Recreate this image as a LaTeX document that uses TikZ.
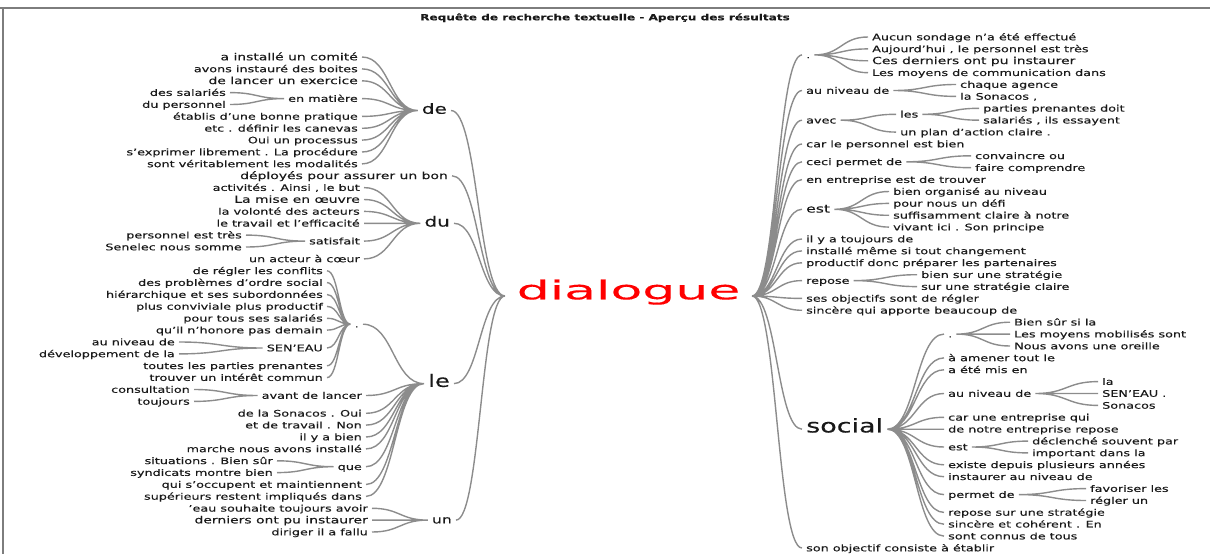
\documentclass[tikz,border=0pt]{standalone}
\usepackage{fontspec}
\setmainfont[FakeStretch=1.42,FakeBold=0.3]{DejaVu Sans}
\newfontfamily\rootfont[FakeStretch=2.0,FakeBold=0.3]{DejaVu Sans}
\usetikzlibrary{calc}
\definecolor{wire}{RGB}{140,140,140}
\definecolor{ink}{RGB}{25,25,25}
\definecolor{rim}{RGB}{125,125,125}

\begin{document}
\begin{tikzpicture}[
    x=1pt, y=-1pt,
    every node/.style={inner xsep=4pt, inner ysep=1pt, text height=1.6ex, text depth=.4ex, text=ink, font=\fontsize{9}{10}\selectfont},
    pre/.style={anchor=east},
    post/.style={anchor=west},
    big/.style={font=\fontsize{9.8}{11}\selectfont},
    hub/.style={font=\fontsize{14}{16}\selectfont},
    root/.style={font=\rootfont\fontsize{26}{30}\selectfont, text=red, inner xsep=11.5pt},
    link/.style={draw=wire, line width=1.4pt,
        to path={let \p1=(\tikztostart), \p2=(\tikztotarget), \n1={0.5*(\x2-\x1)} in
            .. controls +(\n1,0) and +(-\n1,0) .. (\tikztotarget)}}
]
\useasboundingbox (0,0) rectangle (1210,554);
\draw[rim, line width=1.5pt] (0,8) -- (1210,8) (3,8) -- (3,554);
\node[font=\bfseries\fontsize{8.5}{10}\selectfont] (title) at (605,17) {Requête de recherche textuelle - Aperçu des résultats};

\node[root] (dialogue) at (628.5,296) {dialogue};

% words before
\node[pre,hub] (de) at (451,110.5) {de};
\node[pre,big] (de-comite) at (362,57) {a installé un comité};
\node[pre] (de-boites) at (362,68.9) {avons instauré des boites};
\node[pre,big] (de-exercice) at (362,80.8) {de lancer un exercice};
\node[pre] (matiere) at (362,98.6) {en matière};
\node[pre] (matiere-salaries) at (230,92.6) {des salariés};
\node[pre] (matiere-personnel) at (230,104.5) {du personnel};
\node[pre] (de-pratique) at (362,116.4) {établis d'une bonne pratique};
\node[pre] (de-canevas) at (362,128.3) {etc . définir les canevas};
\node[pre] (de-processus) at (362,140.1) {Oui un processus};
\node[pre] (de-procedure) at (362,152.0) {s'exprimer librement . La procédure};
\node[pre] (de-modalites) at (362,163.9) {sont véritablement les modalités};

\node[pre,big] (deployes) at (452,175.8) {déployés pour assurer un bon};

\node[pre,hub] (du) at (454,223.3) {du};
\node[pre] (du-but) at (364,187.6) {activités . Ainsi , le but};
\node[pre,big] (du-oeuvre) at (364,199.5) {La mise en œuvre};
\node[pre] (du-volonte) at (364,211.4) {la volonté des acteurs};
\node[pre] (du-travail) at (364,223.3) {le travail et l'efficacité};
\node[pre] (satisfait) at (364,241.1) {satisfait};
\node[pre] (satisfait-tres) at (246,235.1) {personnel est très};
\node[pre] (satisfait-senelec) at (246,247.0) {Senelec nous somme};
\node[pre] (du-coeur) at (364,258.9) {un acteur à cœur};

\node[pre,font=\fontsize{17}{20}\selectfont] (le) at (454,383.6) {le};
\node[pre] (point) at (363,324.2) {.};
\node[pre] (point-conflits) at (327,270.8) {de régler les conflits};
\node[pre] (point-social) at (327,282.6) {des problèmes d'ordre social};
\node[pre] (point-hierarchie) at (327,294.5) {hiérarchique et ses subordonnées};
\node[pre] (point-conviviale) at (327,306.4) {plus conviviale plus productif};
\node[pre] (point-salaries) at (327,318.3) {pour tous ses salariés};
\node[pre] (point-demain) at (327,330.1) {qu'il n'honore pas demain};
\node[pre] (seneau) at (327,348.0) {SEN'EAU};
\node[pre] (seneau-niveau) at (179,342.0) {au niveau de};
\node[pre] (seneau-developpement) at (179,353.9) {développement de la};
\node[pre] (point-prenantes) at (327,365.8) {toutes les parties prenantes};
\node[pre] (point-commun) at (327,377.6) {trouver un intérêt commun};
\node[pre] (avant) at (366,395.5) {avant de lancer};
\node[pre] (avant-consultation) at (194,389.5) {consultation};
\node[pre] (avant-toujours) at (194,401.4) {toujours};
\node[pre] (le-sonacos) at (366,413.3) {de la Sonacos . Oui};
\node[pre] (le-non) at (366,425.1) {et de travail . Non};
\node[pre] (le-bien) at (366,437.0) {il y a bien};
\node[pre] (le-marche) at (366,448.9) {marche nous avons installé};
\node[pre] (que) at (366,466.7) {que};
\node[pre] (que-situations) at (277,460.8) {situations . Bien sûr};
\node[pre] (que-syndicats) at (277,472.6) {syndicats montre bien};
\node[pre] (le-maintien) at (366,484.5) {qui s'occupent et maintiennent};
\node[pre] (le-superieurs) at (366,496.4) {supérieurs restent impliqués dans};

\node[pre,font=\fontsize{11}{13}\selectfont] (un) at (456,520.1) {un};
\node[pre] (un-eau) at (372,508.3) {'eau souhaite toujours avoir};
\node[pre,big] (un-derniers) at (372,520.1) {derniers ont pu instaurer};
\node[pre] (un-diriger) at (372,532.0) {diriger il a fallu};

\draw[link] (de.east) to (dialogue.west) (deployes.east) to (dialogue.west)
    (du.east) to (dialogue.west) (le.east) to (dialogue.west) (un.east) to (dialogue.west);
\draw[link] (de-comite.east) to (de.west) (de-boites.east) to (de.west)
    (de-exercice.east) to (de.west) (matiere.east) to (de.west)
    (de-pratique.east) to (de.west) (de-canevas.east) to (de.west)
    (de-processus.east) to (de.west) (de-procedure.east) to (de.west)
    (de-modalites.east) to (de.west);
\draw[link] (matiere-salaries.east) to (matiere.west) (matiere-personnel.east) to (matiere.west);
\draw[link] (du-but.east) to (du.west) (du-oeuvre.east) to (du.west)
    (du-volonte.east) to (du.west) (du-travail.east) to (du.west)
    (satisfait.east) to (du.west) (du-coeur.east) to (du.west);
\draw[link] (satisfait-tres.east) to (satisfait.west) (satisfait-senelec.east) to (satisfait.west);
\draw[link] (point.east) to (le.west) (avant.east) to (le.west)
    (le-sonacos.east) to (le.west) (le-non.east) to (le.west)
    (le-bien.east) to (le.west) (le-marche.east) to (le.west)
    (que.east) to (le.west) (le-maintien.east) to (le.west)
    (le-superieurs.east) to (le.west);
\draw[link] (point-conflits.east) to (point.west) (point-social.east) to (point.west)
    (point-hierarchie.east) to (point.west) (point-conviviale.east) to (point.west)
    (point-salaries.east) to (point.west) (point-demain.east) to (point.west)
    (seneau.east) to (point.west) (point-prenantes.east) to (point.west)
    (point-commun.east) to (point.west);
\draw[link] (seneau-niveau.east) to (seneau.west) (seneau-developpement.east) to (seneau.west);
\draw[link] (avant-consultation.east) to (avant.west) (avant-toujours.east) to (avant.west);
\draw[link] (que-situations.east) to (que.west) (que-syndicats.east) to (que.west);
\draw[link] (un-eau.east) to (un.west) (un-derniers.east) to (un.west) (un-diriger.east) to (un.west);

% words after
\node[post] (fin) at (802,54.9) {.};
\node[post] (fin-sondage) at (868,37.0) {Aucun sondage n'a été effectué};
\node[post] (fin-aujourdhui) at (868,48.9) {Aujourd'hui , le personnel est très};
\node[post,big] (fin-derniers) at (868,60.8) {Ces derniers ont pu instaurer};
\node[post] (fin-moyens) at (868,72.7) {Les moyens de communication dans};
\node[post] (niveau) at (802,90.5) {au niveau de};
\node[post] (niveau-agence) at (956,84.5) {chaque agence};
\node[post] (niveau-sonacos) at (956,96.4) {la Sonacos ,};
\node[post] (avec) at (802,120.2) {avec};
\node[post] (les) at (896,114.3) {les};
\node[post] (les-prenantes) at (979,108.3) {parties prenantes doit};
\node[post] (les-salaries) at (979,120.2) {salariés , ils essayent};
\node[post] (avec-plan) at (896,132.1) {un plan d'action claire .};
\node[post] (car) at (802,144.0) {car le personnel est bien};
\node[post] (ceci) at (802,161.8) {ceci permet de};
\node[post] (ceci-convaincre) at (971,155.8) {convaincre ou};
\node[post] (ceci-comprendre) at (971,167.7) {faire comprendre};
\node[post] (trouver) at (802,179.6) {en entreprise est de trouver};
\node[post,font=\fontsize{11}{13}\selectfont] (est) at (802,209.3) {est};
\node[post] (est-organise) at (889,191.5) {bien organisé au niveau};
\node[post] (est-defi) at (889,203.4) {pour nous un défi};
\node[post] (est-claire) at (889,215.3) {suffisamment claire à notre};
\node[post] (est-principe) at (889,227.1) {vivant ici . Son principe};
\node[post] (toujours) at (802,239.0) {il y a toujours de};
\node[post] (changement) at (802,250.9) {installé même si tout changement};
\node[post] (productif) at (802,262.8) {productif donc préparer les partenaires};
\node[post] (repose) at (802,280.6) {repose};
\node[post] (repose-bien) at (917,274.7) {bien sur une stratégie};
\node[post] (repose-claire) at (917,286.6) {sur une stratégie claire};
\node[post] (objectifs) at (802,298.4) {ses objectifs sont de régler};
\node[post] (sincere) at (802,310.3) {sincère qui apporte beaucoup de};

\node[post,font=\fontsize{19}{22}\selectfont] (social) at (802,429.2) {social};
\node[post] (sfin) at (944,334.1) {.};
\node[post] (sfin-si) at (1010,322.2) {Bien sûr si la};
\node[post] (sfin-moyens) at (1010,334.1) {Les moyens mobilisés sont};
\node[post] (sfin-oreille) at (1010,346.0) {Nous avons une oreille};
\node[post] (amener) at (944,357.9) {à amener tout le};
\node[post] (mis) at (944,369.8) {a été mis en};
\node[post] (sniveau) at (944,393.5) {au niveau de};
\node[post] (sniveau-la) at (1098,381.6) {la};
\node[post] (sniveau-seneau) at (1098,393.5) {SEN'EAU .};
\node[post] (sniveau-sonacos) at (1098,405.4) {Sonacos};
\node[post] (entreprise) at (944,417.3) {car une entreprise qui};
\node[post] (notre) at (944,429.2) {de notre entreprise repose};
\node[post] (sest) at (944,447.0) {est};
\node[post] (sest-declenche) at (1028,441.1) {déclenché souvent par};
\node[post] (sest-important) at (1028,452.9) {important dans la};
\node[post] (existe) at (944,464.8) {existe depuis plusieurs années};
\node[post] (instaurer) at (944,476.7) {instaurer au niveau de};
\node[post] (permet) at (944,494.6) {permet de};
\node[post] (permet-favoriser) at (1086,488.6) {favoriser les};
\node[post] (permet-regler) at (1086,500.5) {régler un};
\node[post] (strategie) at (944,512.4) {repose sur une stratégie};
\node[post] (coherent) at (944,524.2) {sincère et cohérent . En};
\node[post] (connus) at (944,536.1) {sont connus de tous};

\node[post] (objectif) at (802,548.0) {son objectif consiste à établir};

\draw[link] (dialogue.east) to (fin.west) (dialogue.east) to (niveau.west)
    (dialogue.east) to (avec.west) (dialogue.east) to (car.west)
    (dialogue.east) to (ceci.west) (dialogue.east) to (trouver.west)
    (dialogue.east) to (est.west) (dialogue.east) to (toujours.west)
    (dialogue.east) to (changement.west) (dialogue.east) to (productif.west)
    (dialogue.east) to (repose.west) (dialogue.east) to (objectifs.west)
    (dialogue.east) to (sincere.west) (dialogue.east) to (social.west)
    (dialogue.east) to (objectif.west);
\draw[link] (fin.east) to (fin-sondage.west) (fin.east) to (fin-aujourdhui.west)
    (fin.east) to (fin-derniers.west) (fin.east) to (fin-moyens.west);
\draw[link] (niveau.east) to (niveau-agence.west) (niveau.east) to (niveau-sonacos.west);
\draw[link] (avec.east) to (les.west) (avec.east) to (avec-plan.west);
\draw[link] (les.east) to (les-prenantes.west) (les.east) to (les-salaries.west);
\draw[link] (ceci.east) to (ceci-convaincre.west) (ceci.east) to (ceci-comprendre.west);
\draw[link] (est.east) to (est-organise.west) (est.east) to (est-defi.west)
    (est.east) to (est-claire.west) (est.east) to (est-principe.west);
\draw[link] (repose.east) to (repose-bien.west) (repose.east) to (repose-claire.west);
\draw[link] (social.east) to (sfin.west) (social.east) to (amener.west)
    (social.east) to (mis.west) (social.east) to (sniveau.west)
    (social.east) to (entreprise.west) (social.east) to (notre.west)
    (social.east) to (sest.west) (social.east) to (existe.west)
    (social.east) to (instaurer.west) (social.east) to (permet.west)
    (social.east) to (strategie.west) (social.east) to (coherent.west)
    (social.east) to (connus.west);
\draw[link] (sfin.east) to (sfin-si.west) (sfin.east) to (sfin-moyens.west) (sfin.east) to (sfin-oreille.west);
\draw[link] (sniveau.east) to (sniveau-la.west) (sniveau.east) to (sniveau-seneau.west) (sniveau.east) to (sniveau-sonacos.west);
\draw[link] (sest.east) to (sest-declenche.west) (sest.east) to (sest-important.west);
\draw[link] (permet.east) to (permet-favoriser.west) (permet.east) to (permet-regler.west);
\end{tikzpicture}
\end{document}
